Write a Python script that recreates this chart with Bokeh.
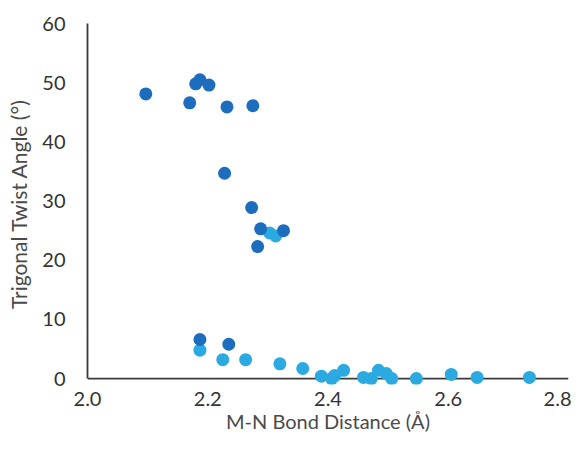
from bokeh.plotting import figure
from bokeh.models import Range1d, FixedTicker, Span
from bokeh.embed import file_html
from bokeh.resources import INLINE

# Series 1 (dark blue)
dark_x = [2.097, 2.170, 2.180, 2.187, 2.202, 2.232, 2.275, 2.228, 2.273,
          2.288, 2.326, 2.283, 2.187, 2.235]
dark_y = [48.1, 46.6, 49.8, 50.5, 49.6, 45.9, 46.1, 34.7, 28.9,
          25.3, 25.0, 22.3, 6.6, 5.8]

# Series 2 (light blue)
light_x = [2.303, 2.313, 2.187, 2.225, 2.263, 2.320, 2.358, 2.389, 2.406,
           2.411, 2.426, 2.459, 2.472, 2.484, 2.497, 2.506, 2.547, 2.605,
           2.648, 2.735]
light_y = [24.6, 24.1, 4.8, 3.2, 3.2, 2.5, 1.7, 0.4, 0.0,
           0.5, 1.4, 0.2, 0.0, 1.4, 0.85, 0.0, 0.0, 0.7,
           0.2, 0.2]

x_ticks = [2.0, 2.2, 2.4, 2.6, 2.8]
x_tick_labels = {2.0: "2.0", 2.2: "2.2", 2.4: "2.4", 2.6: "2.6", 2.8: "2.8"}
y_ticks = [0, 10, 20, 30, 40, 50, 60]

x_title = "M-N Bond Distance (Å)"
y_title = "Trigonal Twist Angle (°)"

FONT = "Lato"
AXIS_COLOR = "#3a3a3a"
TEXT_COLOR = "#333333"
TITLE_COLOR = "#4a4a4a"

p = figure(width=571, height=435, output_backend="svg",
           toolbar_location=None,
           x_range=Range1d(2.0, 2.8), y_range=Range1d(-1.0, 60),
           min_border_left=87, min_border_right=3, min_border_top=23,
           min_border_bottom=51)
p.outline_line_color = None
p.xgrid.grid_line_color = None
p.ygrid.grid_line_color = None
p.background_fill_color = "white"
p.border_fill_color = "white"

baseline = Span(location=0, dimension="width", line_color=AXIS_COLOR,
                line_width=1.8, level="underlay")
p.add_layout(baseline)

p.scatter(light_x, light_y, size=13, color="#2BA9E1", line_color=None)
p.scatter(dark_x, dark_y, size=13, color="#1C6DBE", line_color=None)

xa = p.xaxis[0]
xa.ticker = FixedTicker(ticks=x_ticks)
xa.major_label_overrides = x_tick_labels
xa.axis_line_color = None
xa.major_tick_line_color = None
xa.minor_tick_line_color = None
xa.major_tick_in = 0
xa.major_tick_out = 0
xa.minor_tick_in = 0
xa.minor_tick_out = 0
xa.major_label_standoff = 7
xa.axis_label = x_title
xa.axis_label_standoff = 0
xa.axis_label_text_font_style = "normal"
xa.axis_label_text_font_size = "20px"

ya = p.yaxis[0]
ya.ticker = FixedTicker(ticks=y_ticks)
ya.bounds = (0, 60)
ya.axis_line_color = AXIS_COLOR
ya.axis_line_width = 1.8
ya.major_tick_line_color = None
ya.minor_tick_line_color = None
ya.major_tick_in = 0
ya.major_tick_out = 0
ya.minor_tick_in = 0
ya.minor_tick_out = 0
ya.major_label_standoff = 22
ya.axis_label = y_title
ya.axis_label_standoff = 8
ya.axis_label_text_font_style = "normal"
ya.axis_label_text_font_size = "21px"

for ax in (xa, ya):
    ax.major_label_text_font = FONT
    ax.major_label_text_font_size = "20px"
    ax.major_label_text_color = TEXT_COLOR
    ax.axis_label_text_font = FONT
    ax.axis_label_text_color = TITLE_COLOR

open("out.html", "w").write(file_html(p, INLINE))
